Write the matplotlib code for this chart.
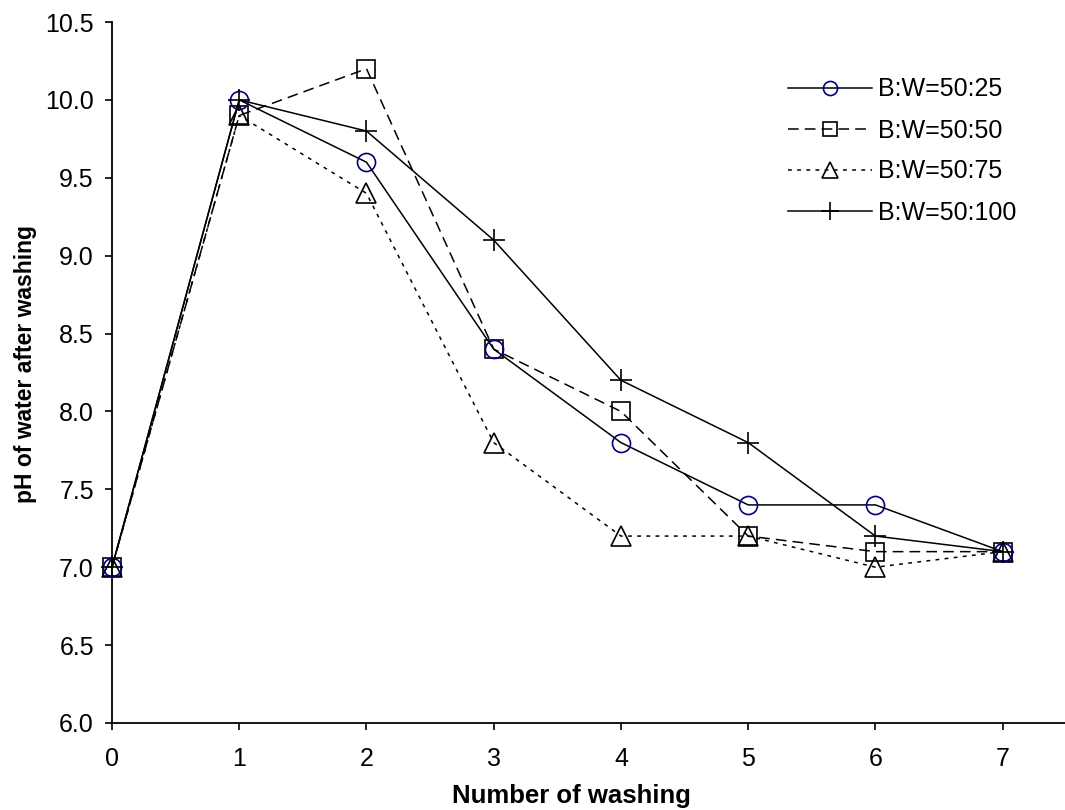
import matplotlib
matplotlib.use('Agg')
import matplotlib.pyplot as plt

# ---------- data ----------
washes = [0, 1, 2, 3, 4, 5, 6, 7]
ph_25 = [7.0, 10.0, 9.6, 8.4, 7.8, 7.4, 7.4, 7.1]
ph_50 = [7.0, 9.9, 10.2, 8.4, 8.0, 7.2, 7.1, 7.1]
ph_75 = [7.0, 9.9, 9.4, 7.8, 7.2, 7.2, 7.0, 7.1]
ph_100 = [7.0, 10.0, 9.8, 9.1, 8.2, 7.8, 7.2, 7.1]
labels = ['B:W=50:25', 'B:W=50:50', 'B:W=50:75', 'B:W=50:100']
yticks = [6.0, 6.5, 7.0, 7.5, 8.0, 8.5, 9.0, 9.5, 10.0, 10.5]

plt.rcParams['font.family'] = ['Liberation Sans', 'DejaVu Sans']
FS = 18

fig = plt.figure(figsize=(10.65, 8.1), dpi=100, facecolor='white')
ax = fig.add_axes([112 / 1065, 87 / 810, (1065 - 112) / 1065, 701 / 810])

lw = 1.1
mew = 1.2
common = dict(color='black', lw=lw, mfc='none', mew=mew, clip_on=False)
ax.plot(washes, ph_25, marker='o', ms=13, mec='#000080', label=labels[0],
        zorder=4, **common)
ax.plot(washes, ph_50, ls=(0, (7, 4)), marker='s', ms=13, mec='black',
        label=labels[1], zorder=3, **common)
ax.plot(washes, ph_75, ls=(0, (2.5, 3.5)), marker='^', ms=14.5, mec='black',
        label=labels[2], zorder=3, **common)
ax.plot(washes, ph_100, marker='+', ms=16, mec='black', label=labels[3],
        zorder=5, **common)

ax.set_xlim(0, 7.49)
ax.set_ylim(6.0, 10.5)
ax.set_xticks(washes)
ax.set_yticks(yticks)
ax.set_yticklabels(['%.1f' % v for v in yticks])
ax.tick_params(axis='both', labelsize=FS, direction='out', length=5, width=1.2,
               colors='black')
ax.tick_params(axis='x', pad=12)
ax.tick_params(axis='y', pad=8)
for s in ('top', 'right'):
    ax.spines[s].set_visible(False)
for s in ('left', 'bottom'):
    ax.spines[s].set_linewidth(1.3)

fig.text(571 / 1065, 1 - 796 / 810, 'Number of washing', ha='center', va='center',
         fontsize=18.5, fontweight='bold')
fig.text(26 / 1065, 1 - 364 / 810, 'pH of water after washing', ha='center',
         va='center', fontsize=16.5, fontweight='bold', rotation=90)

ax.legend(loc='upper left', bbox_to_anchor=(765 / 1065, 1 - 55 / 810),
          bbox_transform=fig.transFigure, frameon=False, fontsize=FS,
          handlelength=3.36, handletextpad=0.28, labelspacing=0.68,
          markerscale=0.78)

fig.savefig('out.png', dpi=100, facecolor='white')
